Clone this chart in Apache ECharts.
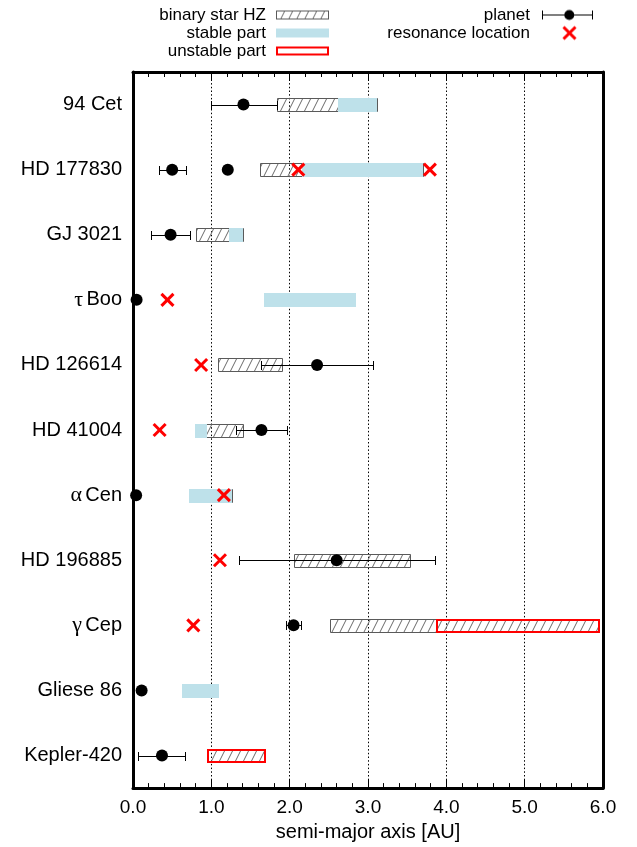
<!DOCTYPE html>
<html>
<head>
<meta charset="utf-8">
<script src="https://cdn.jsdelivr.net/npm/echarts@6/dist/echarts.min.js"></script>
<style>
  html, body { margin: 0; padding: 0; background: #fff; }
  #chart { width: 637px; height: 847px; }
</style>
</head>
<body>
<div id="chart"></div>
<script>
// Planetary systems, top to bottom
const systems = ['94 Cet', 'HD 177830', 'GJ 3021', 'τ Boo', 'HD 126614', 'HD 41004',
                 'α Cen', 'HD 196885', 'γ Cep', 'Gliese 86', 'Kepler-420'];

// Binary-star habitable zones [system, inner AU, outer AU]
const hzZones = [
  ['94 Cet', 1.84, 3.12], ['HD 177830', 1.62, 3.70], ['GJ 3021', 0.81, 1.40],
  ['HD 126614', 1.09, 1.90], ['HD 41004', 0.79, 1.40], ['α Cen', 0.71, 1.26],
  ['HD 196885', 2.05, 3.53], ['γ Cep', 2.51, 5.93], ['Kepler-420', 0.95, 1.67]
];

// Dynamically stable parts [system, inner AU, outer AU]
const stableParts = [
  ['94 Cet', 2.62, 3.12], ['HD 177830', 2.16, 3.70], ['GJ 3021', 1.23, 1.40],
  ['τ Boo', 1.67, 2.85], ['HD 41004', 0.79, 0.94], ['α Cen', 0.71, 1.26],
  ['Gliese 86', 0.62, 1.10]
];

// Unstable parts [system, inner AU, outer AU]
const unstableParts = [['γ Cep', 3.87, 5.93], ['Kepler-420', 0.95, 1.67]];

// Planets [system, a, a_min, a_max] (null = no range shown)
const planets = [
  ['94 Cet', 1.41, 0.99, 1.84], ['HD 177830', 0.50, 0.33, 0.68], ['HD 177830', 1.21, null, null],
  ['GJ 3021', 0.48, 0.23, 0.73], ['τ Boo', 0.046, null, null], ['HD 126614', 2.35, 1.64, 3.06],
  ['HD 41004', 1.64, 1.31, 1.97], ['α Cen', 0.04, null, null], ['HD 196885', 2.60, 1.35, 3.86],
  ['γ Cep', 2.05, 1.95, 2.15], ['Gliese 86', 0.11, null, null], ['Kepler-420', 0.37, 0.07, 0.67]
];

// Mean-motion resonance locations [system, a]
const resonances = [
  ['HD 177830', 2.11], ['HD 177830', 3.79], ['τ Boo', 0.44], ['HD 126614', 0.87],
  ['HD 41004', 0.34], ['α Cen', 1.16], ['HD 196885', 1.11], ['γ Cep', 0.77]
];

const xTicks = [0, 1, 2, 3, 4, 5, 6];

const FONT = 'Liberation Sans, Arial, sans-serif';
const BLUE = '#bee1ea';
const RED = '#ff0000';
const HATCH_EDGE = '#5a5a5a';

// diagonal hatch tile
const hatch = document.createElement('canvas');
hatch.width = 8; hatch.height = 16;
(function () {
  const c = hatch.getContext('2d');
  c.strokeStyle = '#6a6a6a';
  c.lineWidth = 1;
  for (let x = -8; x <= 8; x += 8) {
    c.beginPath(); c.moveTo(x, 16); c.lineTo(x + 8, 0); c.stroke();
  }
})();

function makeIcon(w, h, draw) {
  const c = document.createElement('canvas');
  c.width = w; c.height = h;
  draw(c.getContext('2d'));
  return 'image://' + c.toDataURL();
}
const IW = 58, IH = 17;
const iconHZ = makeIcon(IW, IH, c => {
  c.fillStyle = c.createPattern(hatch, 'repeat');
  c.fillRect(5.5, 4.5, 52, 8);
  c.strokeStyle = HATCH_EDGE; c.lineWidth = 1;
  c.strokeRect(5.5, 4.5, 52, 8);
});
const iconStable = makeIcon(IW, IH, c => {
  c.fillStyle = BLUE; c.fillRect(5, 4, 53, 9);
});
const iconUnstable = makeIcon(IW, IH, c => {
  c.strokeStyle = RED; c.lineWidth = 2;
  c.strokeRect(6, 5, 51, 7);
});
const iconPlanet = makeIcon(IW, IH, c => {
  c.strokeStyle = '#000'; c.lineWidth = 1;
  c.beginPath();
  c.moveTo(7, 8.5); c.lineTo(57, 8.5);
  c.moveTo(7.5, 4); c.lineTo(7.5, 13);
  c.moveTo(57.5, 4); c.lineTo(57.5, 13);
  c.stroke();
  c.fillStyle = '#000';
  c.beginPath(); c.arc(34.3, 8.5, 5, 0, Math.PI * 2); c.fill();
});
const iconRes = makeIcon(IW, IH, c => {
  c.strokeStyle = RED; c.lineWidth = 3;
  c.beginPath();
  c.moveTo(28.5, 2.5); c.lineTo(40.5, 14.5);
  c.moveTo(40.5, 2.5); c.lineTo(28.5, 14.5);
  c.stroke();
});

const idx = name => systems.indexOf(name);
const rangeData = arr => arr.map(r => [idx(r[0]), r[1], r[2]]);
const planetData = planets.map(p => [idx(p[0]), p[1],
  p[2] == null ? p[1] : p[2], p[3] == null ? p[1] : p[3], p[2] == null ? 0 : 1]);
const resData = resonances.map(r => [idx(r[0]), r[1]]);

const BOX_H = 13;

function boxItem(api, style) {
  const y = api.value(0);
  const p1 = api.coord([api.value(1), y]);
  const p2 = api.coord([api.value(2), y]);
  const x1 = Math.round(p1[0]) + 0.5;
  const x2 = Math.round(p2[0]) + 0.5;
  const yt = Math.round(p1[1] - BOX_H / 2) + 0.5;
  return {
    type: 'rect',
    shape: { x: x1, y: yt, width: x2 - x1, height: BOX_H },
    style: style
  };
}

// x axis: frame line with inward major/minor ticks
function frameAxis(position, extra) {
  return Object.assign({
    type: 'value', min: xTicks[0], max: xTicks[xTicks.length - 1], interval: 1,
    position: position,
    axisLine: { show: true, lineStyle: { color: '#000', width: 3 } },
    axisTick: { show: true, inside: true, length: 9, lineStyle: { color: '#000', width: 1 } },
    minorTick: { show: true, splitNumber: 5, length: 5, lineStyle: { color: '#000', width: 1 } },
    axisLabel: { show: false },
    splitLine: { show: false }
  }, extra);
}

const chart = echarts.init(document.getElementById('chart'));

const option = {
  backgroundColor: '#fff',
  animation: false,
  grid: { left: 133, right: 34, top: 72, bottom: 57 },
  legend: [
    {
      orient: 'vertical', align: 'right', right: 308, top: 6.5, padding: 0,
      itemWidth: IW, itemHeight: IH, itemGap: 1, selectedMode: false,
      textStyle: { fontSize: 17, color: '#000', fontFamily: FONT },
      data: [
        { name: 'binary star HZ', icon: iconHZ },
        { name: 'stable part', icon: iconStable },
        { name: 'unstable part', icon: iconUnstable }
      ]
    },
    {
      orient: 'vertical', align: 'right', right: 44, top: 6.5, padding: 0,
      itemWidth: IW, itemHeight: IH, itemGap: 1, selectedMode: false,
      textStyle: { fontSize: 17, color: '#000', fontFamily: FONT },
      data: [
        { name: 'planet', icon: iconPlanet },
        { name: 'resonance location', icon: iconRes }
      ]
    }
  ],
  xAxis: [
    frameAxis('bottom', {
      name: 'semi-major axis [AU]', nameLocation: 'middle', nameGap: 32,
      nameTextStyle: { fontSize: 20, color: '#000', fontFamily: FONT },
      axisLabel: {
        show: true, fontSize: 19, color: '#000', margin: 10, fontFamily: FONT,
        formatter: v => v.toFixed(1)
      },
      splitLine: { show: true, lineStyle: { color: '#000', width: 1, type: [1.5, 2.2] } }
    }),
    frameAxis('top', {})
  ],
  yAxis: [
    {
      type: 'category', data: systems, inverse: true, position: 'left',
      axisLine: { show: true, onZero: false, lineStyle: { color: '#000', width: 3 } },
      axisTick: { show: false }, splitLine: { show: false },
      axisLabel: {
        margin: 11, color: '#000',
        formatter: v => {
          const m = v.match(/^([ταγ]) (.*)$/);
          return m ? '{g|' + m[1] + '} {t|' + m[2] + '}' : '{t|' + v + '}';
        },
        rich: {
          t: { fontSize: 20, fontFamily: FONT, color: '#000' },
          g: { fontSize: 22, fontFamily: 'Liberation Serif, serif', color: '#000' }
        }
      }
    },
    {
      type: 'category', data: systems, inverse: true, position: 'right',
      axisLine: { show: true, onZero: false, lineStyle: { color: '#000', width: 3 } },
      axisTick: { show: false }, axisLabel: { show: false }, splitLine: { show: false }
    }
  ],
  series: [
    {
      name: 'binary star HZ', type: 'custom',
      data: rangeData(hzZones), encode: { x: [1, 2], y: 0 },
      renderItem: (params, api) => boxItem(api, {
        fill: { image: hatch, repeat: 'repeat' }, stroke: HATCH_EDGE, lineWidth: 1
      })
    },
    {
      name: 'stable part', type: 'custom',
      data: rangeData(stableParts), encode: { x: [1, 2], y: 0 },
      renderItem: (params, api) => {
        const y = api.value(0);
        const p1 = api.coord([api.value(1), y]);
        const p2 = api.coord([api.value(2), y]);
        const x1 = Math.round(p1[0]);
        const x2 = Math.round(p2[0]);
        const yt = Math.round(p1[1] - BOX_H / 2);
        return {
          type: 'rect',
          shape: { x: x1, y: yt, width: x2 - x1, height: BOX_H + 1 },
          style: { fill: BLUE }
        };
      }
    },
    {
      name: 'unstable part', type: 'custom',
      data: rangeData(unstableParts), encode: { x: [1, 2], y: 0 },
      renderItem: (params, api) => {
        const y = api.value(0);
        const p1 = api.coord([api.value(1), y]);
        const p2 = api.coord([api.value(2), y]);
        return {
          type: 'rect',
          shape: { x: Math.round(p1[0]) + 1, y: Math.round(p1[1] - BOX_H / 2) + 1,
                   width: Math.round(p2[0]) - Math.round(p1[0]), height: BOX_H - 1 },
          style: { fill: null, stroke: RED, lineWidth: 2 }
        };
      }
    },
    {
      name: 'resonance location', type: 'custom',
      data: resData, encode: { x: 1, y: 0 },
      renderItem: (params, api) => {
        const p = api.coord([api.value(1), api.value(0)]);
        const s = 6;
        return {
          type: 'group',
          children: [
            { type: 'line', shape: { x1: p[0] - s, y1: p[1] - s, x2: p[0] + s, y2: p[1] + s },
              style: { stroke: RED, lineWidth: 3 } },
            { type: 'line', shape: { x1: p[0] + s, y1: p[1] - s, x2: p[0] - s, y2: p[1] + s },
              style: { stroke: RED, lineWidth: 3 } }
          ]
        };
      }
    },
    {
      name: 'planet', type: 'custom',
      data: planetData, encode: { x: [1, 2, 3], y: 0 },
      renderItem: (params, api) => {
        const y = api.value(0);
        const c = api.coord([api.value(1), y]);
        const children = [];
        if (api.value(4) === 1) {
          const lo = api.coord([api.value(2), y]);
          const hi = api.coord([api.value(3), y]);
          const cy = Math.round(c[1]) + 0.5;
          const xl = Math.round(lo[0]) + 0.5, xh = Math.round(hi[0]) + 0.5;
          children.push(
            { type: 'line', shape: { x1: xl, y1: cy, x2: xh, y2: cy }, style: { stroke: '#000', lineWidth: 1 } },
            { type: 'line', shape: { x1: xl, y1: cy - 4.5, x2: xl, y2: cy + 4.5 }, style: { stroke: '#000', lineWidth: 1 } },
            { type: 'line', shape: { x1: xh, y1: cy - 4.5, x2: xh, y2: cy + 4.5 }, style: { stroke: '#000', lineWidth: 1 } }
          );
        }
        children.push({ type: 'circle', shape: { cx: c[0], cy: c[1], r: 6 }, style: { fill: '#000' } });
        return { type: 'group', children: children };
      }
    }
  ]
};

chart.setOption(option);
</script>
</body>
</html>
